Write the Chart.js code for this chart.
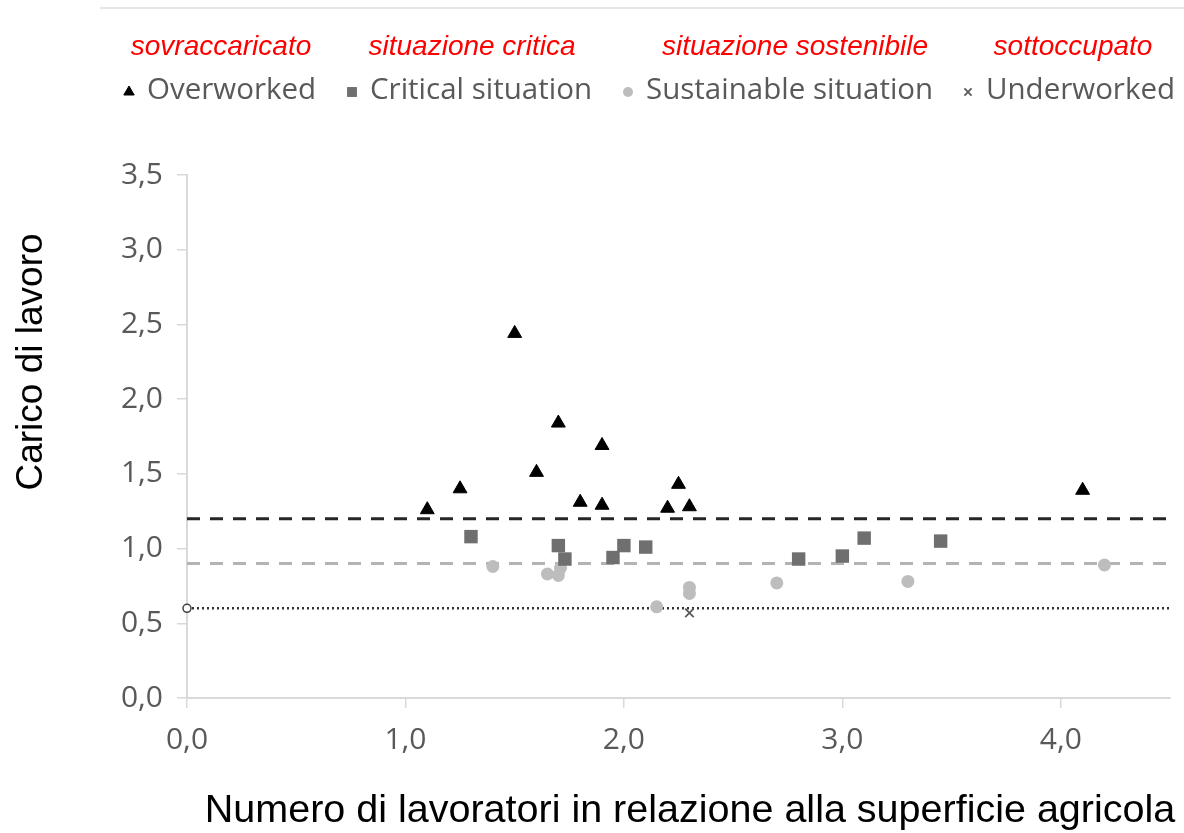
<!DOCTYPE html>
<html lang="it">
<head>
<meta charset="UTF-8">
<title>Carico di lavoro</title>
<script src="https://cdn.jsdelivr.net/npm/chart.js"></script>
<style>
    body { margin: 0; background: #fff; }
    #box { width: 1184px; height: 833px; position: relative; }
</style>
</head>
<body>
<div id="box"><canvas id="grafico"></canvas></div>
<script>
// serie
const xOverworked = [1.10, 1.25, 1.50, 1.60, 1.70, 1.80, 1.90, 1.90, 2.20, 2.25, 2.30, 4.10];
const yOverworked = [1.26, 1.40, 2.44, 1.51, 1.84, 1.31, 1.69, 1.29, 1.27, 1.43, 1.28, 1.39];
const xCritical = [1.30, 1.70, 1.73, 1.95, 2.00, 2.10, 2.80, 3.00, 3.10, 3.45];
const yCritical = [1.08, 1.02, 0.93, 0.94, 1.02, 1.01, 0.93, 0.95, 1.07, 1.05];
const xSustainable = [1.40, 1.65, 1.70, 1.71, 2.15, 2.30, 2.30, 2.70, 3.30, 4.20];
const ySustainable = [0.88, 0.83, 0.82, 0.87, 0.61, 0.74, 0.70, 0.77, 0.78, 0.89];
const xUnderworked = [2.30];
const yUnderworked = [0.57];

// soglie orizzontali
const soglie = [1.2, 0.9, 0.6];
const xMin = 0, xMax = 4.5, yMin = 0, yMax = 3.5;

const nomiSerie = ["Overworked", "Critical situation", "Sustainable situation", "Underworked"];
const etichette = ["sovraccaricato", "situazione critica", "situazione sostenibile", "sottoccupato"];
const titoloY = "Carico di lavoro";
const titoloX = "Numero di lavoratori in relazione alla superficie agricola";

function punti(xs, ys) { return xs.map((x, i) => ({x: x, y: ys[i]})); }
function virgola(v) { return v.toFixed(1).replace('.', ','); }

// legenda disegnata a mano (simbolo, testo, etichetta rossa sopra) + titoli assi
const legendaX = [129, 352, 628, 968];
const rossoX = [221, 472, 795, 1073];
const legendaPlugin = {
    id: 'legenda',
    afterDraw(chart) {
        const ctx = chart.ctx;
        ctx.save();
        ctx.strokeStyle = '#e6e6e6';
        ctx.lineWidth = 2;
        ctx.beginPath(); ctx.moveTo(100, 8); ctx.lineTo(1184, 8); ctx.stroke();
        for (let i = 0; i < 4; i++) {
            const ds = chart.data.datasets[i];
            ctx.fillStyle = ds.backgroundColor;
            ctx.strokeStyle = ds.borderColor;
            ctx.lineWidth = ds.borderWidth;
            Chart.helpers.drawPoint(ctx, {pointStyle: ds.pointStyle, radius: ds.legendRadius, rotation: 0, borderWidth: ds.borderWidth}, legendaX[i], 92);
            ctx.fillStyle = '#595959';
            ctx.font = '29.5px "Open Sans"';
            ctx.textBaseline = 'middle';
            ctx.textAlign = 'left';
            ctx.fillText(ds.label, legendaX[i] + 18, 91);
            ctx.fillStyle = '#ff0000';
            ctx.font = 'italic 28px "Liberation Sans", Arial';
            ctx.textAlign = 'center';
            ctx.fillText(etichette[i], rossoX[i], 47);
        }
        // titolo asse x
        ctx.fillStyle = '#000000';
        ctx.font = '39.5px "Liberation Sans", Arial';
        ctx.textAlign = 'center';
        ctx.textBaseline = 'middle';
        ctx.fillText(titoloX, 690, 811);
        // titolo asse y
        ctx.translate(32, 362);
        ctx.rotate(-Math.PI / 2);
        ctx.font = '37px "Liberation Sans", Arial';
        ctx.fillText(titoloY, 0, 0);
        ctx.restore();
    }
};

const sogliaStili = [
    {color: '#262626', width: 3, dash: [13, 10]},
    {color: '#b3b3b3', width: 3, dash: [13, 10]},
    {color: '#333333', width: 2.5, dash: [2, 3]}
];

const datasets = [
    {label: nomiSerie[0], data: punti(xOverworked, yOverworked), pointStyle: 'triangle', pointRadius: 8, legendRadius: 6,
     backgroundColor: '#000000', borderColor: '#000000', borderWidth: 1},
    {label: nomiSerie[1], data: punti(xCritical, yCritical), pointStyle: 'rect', pointRadius: 9.5, legendRadius: 7,
     backgroundColor: '#6f6f6f', borderColor: '#6f6f6f', borderWidth: 0},
    {label: nomiSerie[2], data: punti(xSustainable, ySustainable), pointStyle: 'circle', pointRadius: 6.5, legendRadius: 5,
     backgroundColor: '#bdbdbd', borderColor: '#bdbdbd', borderWidth: 0},
    {label: nomiSerie[3], data: punti(xUnderworked, yUnderworked), pointStyle: 'crossRot', pointRadius: 6, legendRadius: 5,
     backgroundColor: '#595959', borderColor: '#595959', borderWidth: 1.8}
];
soglie.forEach((s, i) => {
    datasets.push({
        type: 'line', label: 'soglia ' + s,
        data: [{x: xMin, y: s}, {x: xMax, y: s}],
        borderColor: sogliaStili[i].color, borderWidth: sogliaStili[i].width, borderDash: sogliaStili[i].dash,
        pointRadius: i === 2 ? [4, 0] : 0, pointBorderWidth: 1.5, pointBorderColor: '#404040', pointBackgroundColor: '#ffffff',
        clip: false, order: 10
    });
});

Chart.defaults.font.family = '"Open Sans", sans-serif';
Chart.defaults.color = '#595959';

new Chart(document.getElementById('grafico'), {
    type: 'scatter',
    data: {datasets: datasets},
    options: {
        responsive: true,
        maintainAspectRatio: false,
        animation: false,
        layout: {padding: {top: 175, right: 14, left: 0, bottom: 0}},
        plugins: {legend: {display: false}, tooltip: {enabled: false}},
        scales: {
            x: {
                min: xMin, max: xMax,
                ticks: {stepSize: 1, includeBounds: false, padding: 14, font: {size: 30}, callback: v => virgola(v)},
                grid: {drawOnChartArea: false, drawTicks: true, tickLength: 10, color: '#d9d9d9', lineWidth: 1.5},
                border: {color: '#d9d9d9', width: 2},
                afterFit(scale) { scale.height = 135; }
            },
            y: {
                min: yMin, max: yMax,
                ticks: {stepSize: 0.5, padding: 14, font: {size: 30}, callback: v => virgola(v)},
                grid: {drawOnChartArea: false, drawTicks: true, tickLength: 10, color: '#d9d9d9', lineWidth: 1.5},
                border: {color: '#d9d9d9', width: 2},
                afterFit(scale) { scale.width = 187; }
            }
        }
    },
    plugins: [legendaPlugin]
});
</script>
</body>
</html>
